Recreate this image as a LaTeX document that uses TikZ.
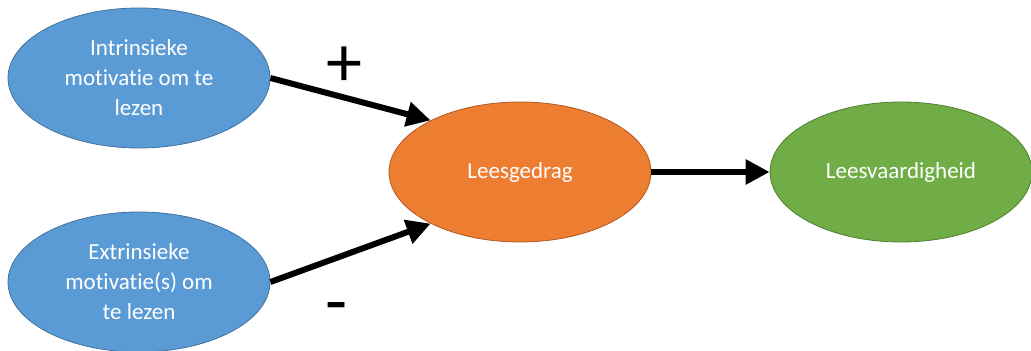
\documentclass[tikz,border=0pt]{standalone}
\usepackage{fontspec}
\setmainfont[Ligatures=NoCommon]{Carlito}
\usetikzlibrary{shapes.geometric,arrows.meta}

\definecolor{motblue}{HTML}{5B9BD5}
\definecolor{motline}{HTML}{41719C}
\definecolor{gedragorange}{HTML}{ED7D31}
\definecolor{gedragline}{HTML}{AE5A21}
\definecolor{vaardgreen}{HTML}{70AD47}
\definecolor{vaardline}{HTML}{507E32}

\begin{document}
\begin{tikzpicture}[x=0.5pt,y=-0.5pt,
	bubble/.style={ellipse, draw, inner sep=0pt, minimum width=131pt, minimum height=70pt,
		text=white, align=center, font=\fontsize{11.5}{15}\selectfont}]

	\useasboundingbox (0,0) rectangle (1031,351);

	\node (intr) [bubble, draw=motline, fill=motblue] at (139, 78) {Intrinsieke\\motivatie om te\\lezen};
	\node (extr) [bubble, draw=motline, fill=motblue] at (139, 282) {Extrinsieke\\motivatie(s) om\\te lezen};
	\node (gedrag) [bubble, draw=gedragline, fill=gedragorange] at (520, 172) {Leesgedrag};
	\node (vaard) [bubble, draw=vaardline, fill=vaardgreen] at (901, 172) {Leesvaardigheid};

	\node (plus) [font=\fontsize{36}{40}\selectfont] at (344, 67) {+};
	\node (minus) [font=\fontsize{36}{40}\selectfont] at (337, 314) {-};

	\path
	(intr.east) edge[-{Triangle[length=12pt, width=12pt]}, line width=3pt] (gedrag.150)
	(extr.east) edge[-{Triangle[length=12pt, width=12pt]}, line width=3pt] (gedrag.210)
	(gedrag) edge[-{Triangle[length=12pt, width=12pt]}, line width=3pt] (vaard);

\end{tikzpicture}
\end{document}
